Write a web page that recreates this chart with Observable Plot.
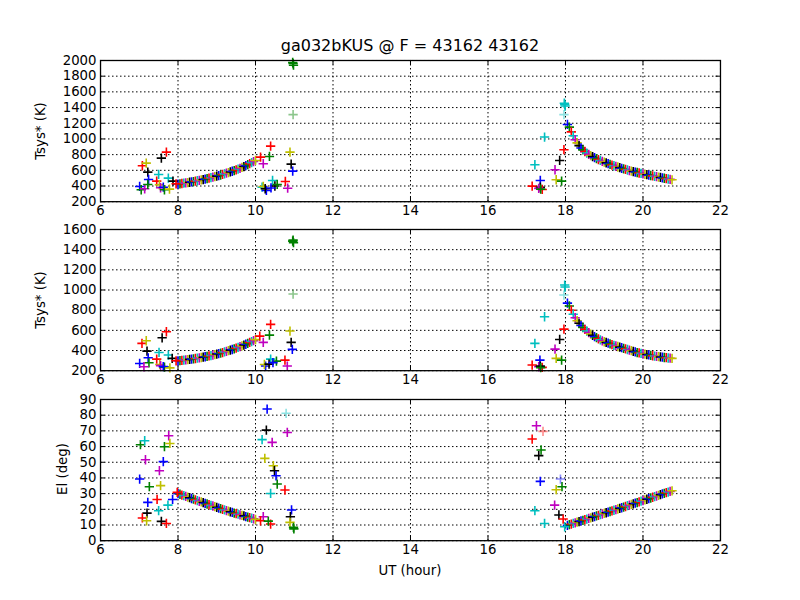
<!DOCTYPE html>
<html><head><meta charset="utf-8">
<script src="https://cdn.jsdelivr.net/npm/d3@7"></script>
<script src="https://cdn.jsdelivr.net/npm/@observablehq/plot@0.6"></script>
<style>
body{margin:0;background:#fff;}
#fig{position:relative;width:800px;height:600px;font-family:"DejaVu Sans",sans-serif;background:#fff;overflow:hidden}
.p{position:absolute;left:0}
.lbl{position:absolute;font-size:13.3px;color:#000;white-space:nowrap;line-height:1}
</style></head><body><div id="fig"></div>
<script>
// ---- data ----
const channels = ["b","g","r","c","m","y","k"];
const channelColors = ["#0000ff","#008000","#ff0000","#00bfbf","#bf00bf","#bfbf00","#000000"];

const utTicks = [6,8,10,12,14,16,18,20,22];
const tsysTicks = [200,400,600,800,1000,1200,1400,1600,1800,2000];
const tsys2Ticks = [200,400,600,800,1000,1200,1400,1600];
const elTicks = [0,10,20,30,40,50,60,70,80,90];

// dense scans, first track
const timeA = [8.00,8.05,8.10,8.15,8.20,8.25,8.30,8.35,8.40,8.45,8.50,8.55,8.60,8.65,8.70,8.75,8.80,8.85,8.90,8.95,
  9.00,9.05,9.10,9.15,9.20,9.25,9.30,9.35,9.40,9.45,9.50,9.55,9.60,9.65,9.70,9.75,9.80,9.85,9.90,9.95,10.00];
const tsysA = [425,428,432,436,440,444,448,452,457,462,467,472,477,482,488,494,500,506,512,519,
  526,533,540,547,555,563,571,579,588,597,606,616,626,637,648,660,672,685,698,712,726];
const tsys2A = [298,300,302,305,307,310,312,315,318,321,324,327,331,334,338,342,346,350,355,360,
  365,370,375,380,386,392,398,404,410,417,424,431,438,446,454,462,471,480,489,498,508];
const elA = [30.0,29.6,29.1,28.7,28.2,27.8,27.4,26.9,26.5,26.0,25.6,25.1,24.7,24.3,23.8,23.4,23.0,22.5,22.1,21.7,
  21.3,20.8,20.4,20.0,19.6,19.2,18.8,18.4,18.0,17.6,17.3,16.9,16.5,16.1,15.8,15.4,15.0,14.7,14.3,14.0,13.6];

// dense scans, second track
const timeB = [18.05,18.10,18.15,18.20,18.25,18.30,18.35,18.40,18.45,18.50,18.55,18.60,18.65,18.70,18.75,18.80,18.85,18.90,18.95,19.00,
  19.05,19.10,19.15,19.20,19.25,19.30,19.35,19.40,19.45,19.50,19.55,19.60,19.65,19.70,19.75,19.80,19.85,19.90,19.95,20.00,
  20.05,20.10,20.15,20.20,20.25,20.30,20.35,20.40,20.45,20.50,20.55,20.60,20.65,20.70,20.75];
const tsysB = [1185,1150,1090,1040,990,950,915,885,860,840,820,803,788,774,761,749,737,726,715,705,
  695,685,676,667,658,650,642,634,626,618,611,604,597,590,584,578,572,566,560,554,
  549,544,539,534,529,524,519,514,509,504,499,494,489,484,479];
const tsys2B = [870,842,800,760,725,695,670,648,628,610,593,578,563,550,538,527,516,506,496,487,
  480,473,466,459,452,446,440,434,428,422,416,410,404,398,392,386,380,376,372,368,
  364,360,356,352,348,345,342,339,336,334,331,329,326,324,322];
const elB = [9.8,10.2,10.6,11.0,11.4,11.8,12.2,12.6,13.0,13.4,13.8,14.2,14.6,15.0,15.4,15.8,16.2,16.6,17.0,17.4,
  17.8,18.2,18.6,19.0,19.4,19.8,20.2,20.6,21.0,21.4,21.8,22.3,22.7,23.1,23.5,23.9,24.3,24.7,25.2,25.6,
  26.0,26.4,26.8,27.2,27.7,28.1,28.5,28.9,29.3,29.8,30.2,30.6,31.0,31.4,31.8];

// isolated scans, panel 1
const tsysOutTime = [7.01,7.05,7.14,7.08,7.18,7.22,7.24,7.22,7.45,7.50,7.52,7.55,7.62,7.57,7.70,7.75,7.65,7.78,7.87,7.95,
  10.96,10.97,10.98,10.39,10.36,10.13,10.20,10.89,10.92,10.96,10.77,10.83,10.17,10.20,10.28,10.25,10.44,10.50,10.56,10.40,
  17.97,17.98,17.99,17.46,17.96,17.85,17.73,17.21,17.76,17.90,17.35,17.14,17.35,17.40,17.31,17.36];
const tsysOutValue = [394,352,365,658,692,577,483,420,462,547,416,378,385,756,832,500,352,360,462,428,
  1975,1961,1940,909,777,768,684,832,679,590,458,372,385,394,343,365,470,400,420,375,
  1455,1441,1420,1024,863,726,607,671,480,462,471,398,385,356,370,360];
const tsysOutChannel = ["b","g","m","r","y","k","b","g","r","c","y","m","b","k","r","c","g","y","k","r",
  "g","g","g","r","g","r","m","y","k","b","r","m","c","y","b","k","c","k","g","b",
  "c","c","c","c","r","k","m","c","y","g","b","r","k","r","m","g"];
const tsysFaintTime = [10.97,17.96];
const tsysFaintValue = [1310,1310];
const tsysFaintChannel = ["g","c"];

// isolated scans, panel 2
const tsys2OutTime = [7.07,7.18,7.20,7.23,7.01,7.25,7.12,7.45,7.51,7.53,7.55,7.59,7.70,7.75,7.65,7.62,7.79,7.85,7.95,
  10.96,10.97,10.98,10.39,10.36,10.11,10.20,10.89,10.92,10.95,10.76,10.82,10.39,10.54,10.26,10.23,10.35,10.45,
  17.98,17.99,17.46,17.96,17.85,17.73,17.21,17.76,17.90,17.34,17.14,17.31,17.40,17.35,17.36];
const tsys2OutValue = [471,497,394,328,272,278,239,315,381,262,250,526,586,355,235,240,228,322,298,
  1485,1495,1470,659,553,543,481,593,481,411,305,246,315,295,246,262,265,280,
  1049,1030,735,612,510,414,471,322,305,305,256,239,233,245,230];
const tsys2OutChannel = ["r","y","k","b","b","g","m","r","c","y","m","k","r","c","g","b","y","k","r",
  "g","g","g","r","g","r","m","y","k","b","r","m","c","g","b","y","k","b",
  "c","c","c","r","k","m","c","y","g","b","r","m","r","k","g"];
const tsys2FaintTime = [10.97,17.96];
const tsys2FaintValue = [960,950];
const tsys2FaintChannel = ["g","c"];

// isolated scans, panel 3
const elOutTime = [7.01,7.03,7.14,7.16,7.26,7.22,7.20,7.08,7.19,7.52,7.55,7.46,7.50,7.57,7.70,7.62,7.65,7.76,7.79,7.74,7.86,7.98,
  10.30,10.28,10.82,10.17,10.43,10.24,10.46,10.49,10.53,10.56,10.76,10.39,10.20,10.13,10.39,10.33,10.93,10.90,10.89,10.98,10.99,
  17.25,17.14,17.37,17.31,17.35,17.91,17.76,17.72,17.21,17.83,17.94,17.46,17.98];
const elOutValue = [39.3,61.2,63.7,51.6,34.4,24.4,17.6,14.5,12.7,44.6,35.1,26.3,19.1,12.3,11.0,50.4,59.9,66.9,62.0,22.7,26.3,30.8,
  83.9,70.5,69.0,64.4,62.7,52.5,47.8,44.6,41.4,36.1,32.3,30.1,15.3,12.7,10.6,12.5,19.6,15.3,11.7,8.5,7.5,
  73.3,64.8,57.8,54.2,37.8,34.4,32.5,22.7,19.1,16.4,13.8,11.0,8.9];
const elOutChannel = ["b","g","c","m","g","b","k","r","y","m","y","r","c","k","r","b","g","m","y","c","b","r",
  "b","k","m","c","m","y","y","k","b","g","r","c","m","r","r","g","b","k","y","g","g",
  "m","r","g","k","b","g","y","m","c","k","r","c","c"];
const elFaintTime = [10.79,17.42,17.87];
const elFaintValue = [81.2,69.7,39.3];
const elFaintChannel = ["c","r","b"];

// ---- drawing ----
const fig = document.getElementById("fig");
const FRAME_H = 141.2, MT = 10, MB = 28;

function rows(ts, vs, cs) { return ts.map((t, i) => ({t, v: vs[i], ch: cs ? cs[i] : channels[i % 7]})); }

function panel(top, domain, yTicks, dense, out, faint) {
  const dotOpts = {x: "t", y: "v", stroke: "ch", symbol: "plus", r: 3.1, strokeWidth: 1.6};
  const gridOpts = {stroke: "#000", strokeOpacity: 1, strokeWidth: 1, strokeDasharray: "1.5,2.5"};
  const svg = Plot.plot({
    width: 800, height: MT + FRAME_H + MB,
    marginTop: MT, marginBottom: MB, marginLeft: 100, marginRight: 80,
    x: {domain: [6, 22], label: null},
    y: {domain, label: null},
    color: {type: "ordinal", domain: channels, range: channelColors},
    style: {fontFamily: "DejaVu Sans, sans-serif", fontSize: "13.3px", background: "transparent", color: "#000", overflow: "visible"},
    marks: [
      Plot.gridX(utTicks, gridOpts),
      Plot.gridY(yTicks, gridOpts),
      Plot.tickX(utTicks, {x: d => d, insetTop: FRAME_H - 4.5, stroke: "#000"}),
      Plot.tickX(utTicks, {x: d => d, insetBottom: FRAME_H - 4.5, stroke: "#000"}),
      Plot.tickY(yTicks, {y: d => d, insetRight: 620 - 4.5, stroke: "#000"}),
      Plot.tickY(yTicks, {y: d => d, insetLeft: 620 - 4.5, stroke: "#000"}),
      Plot.dot(dense, dotOpts),
      Plot.dot(out, dotOpts),
      Plot.dot(faint, {...dotOpts, strokeOpacity: 0.45}),
      Plot.frame({stroke: "#000", strokeWidth: 1.3}),
      Plot.axisX(utTicks, {tickSize: 0, tickPadding: 4, tickFormat: d => String(d), fill: "#000"}),
      Plot.axisY(yTicks, {tickSize: 0, tickPadding: 4, tickFormat: d => String(d), fill: "#000"})
    ]
  });
  svg.classList.add("p");
  svg.style.top = (top - MT) + "px";
  fig.appendChild(svg);
}

panel(60, [200, 2000], tsysTicks,
  [...rows(timeA, tsysA), ...rows(timeB, tsysB)],
  rows(tsysOutTime, tsysOutValue, tsysOutChannel),
  rows(tsysFaintTime, tsysFaintValue, tsysFaintChannel));
panel(229.4, [200, 1600], tsys2Ticks,
  [...rows(timeA, tsys2A), ...rows(timeB, tsys2B)],
  rows(tsys2OutTime, tsys2OutValue, tsys2OutChannel),
  rows(tsys2FaintTime, tsys2FaintValue, tsys2FaintChannel));
panel(398.8, [0, 90], elTicks,
  [...rows(timeA, elA), ...rows(timeB, elB)],
  rows(elOutTime, elOutValue, elOutChannel),
  rows(elFaintTime, elFaintValue, elFaintChannel));

function label(text, cx, cy, size, rotate) {
  const d = document.createElement("div");
  d.className = "lbl";
  d.textContent = text;
  d.style.left = cx + "px";
  d.style.top = cy + "px";
  d.style.fontSize = size + "px";
  d.style.transform = "translate(-50%,-50%)" + (rotate ? " rotate(-90deg)" : "");
  fig.appendChild(d);
}
label("ga032bKUS @ F = 43162 43162", 410, 46, 16, false);
label("Tsys* (K)", 41, 130.6, 13.3, true);
label("Tsys* (K)", 41, 300, 13.3, true);
label("El (deg)", 63, 469.4, 13.3, true);
label("UT (hour)", 410, 571, 13.3, false);
</script>
</body></html>
